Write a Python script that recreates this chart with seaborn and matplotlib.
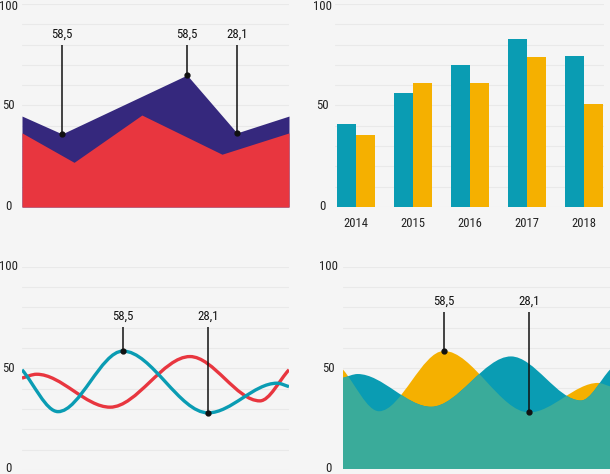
import numpy as np
import pandas as pd
import matplotlib
matplotlib.use("Agg")
import matplotlib.pyplot as plt
import seaborn as sns
from matplotlib.path import Path
from matplotlib.patches import PathPatch
from matplotlib.ticker import MultipleLocator
from matplotlib import font_manager as fm

# ---------------- data ----------------
# top-left stacked area (x on 0..100 scale)
area_top_x = [0, 15.0, 61.8, 80.5, 100]
area_top_y = [44.8, 36.0, 65.0, 36.5, 44.8]
area_low_x = [0, 19.5, 44.9, 74.9, 100]
area_low_y = [36.5, 22.0, 45.3, 26.0, 36.5]
area_labels = ["58,5", "58,5", "28,1"]
area_label_idx = [1, 2, 3]

# top-right grouped bars
years = ["2014", "2015", "2016", "2017", "2018"]
bars_a = [41, 56, 70, 83, 74.5]
bars_b = [35.5, 61, 61, 74, 50.5]

# bottom wave curves (knots, x on 0..100 scale)
wave_a_x = [0, 13.5, 37.8, 69.7, 95.5, 100]
wave_a_y = [49.3, 28.7, 58.5, 28.1, 42.7, 41.0]
wave_b_x = [0, 5.5, 33.0, 62.9, 89.1, 100]
wave_b_y = [45.2, 47.1, 30.9, 55.8, 34.0, 49.3]
wave_labels = ["58,5", "28,1"]
wave_label_idx = [2, 3]

y_ticks = [0, 50, 100]

# ---------------- style ----------------
BG = "#f5f5f5"
GRID = "#e9e9e9"
NAVY = "#35287d"
RED = "#e8363f"
TEAL = "#0a9cb3"
YELLOW = "#f5b000"
GREEN = "#3aab9a"

sns.set_theme(style="white")
plt.rcParams["font.family"] = ["DejaVu Sans"]
plt.rcParams["axes.facecolor"] = BG
plt.rcParams["figure.facecolor"] = BG

# pick a condensed face if one is installed
_pref = ["LiberationSansNarrow-Regular", "RobotoCondensed-Regular", "DejaVuSansCondensed.",
         "OpenSans_Condensed-Regular", "OpenSansCondensed", "NotoSans-Condensed",
         "NotoSansDisplay-Condensed", "Condensed-Regular", "Narrow"]
_files = [f.fname for f in fm.fontManager.ttflist]
_chosen = None
for key in _pref:
    cands = [p for p in _files if key in p.split("/")[-1]
             and "Bold" not in p.split("/")[-1] and "Italic" not in p.split("/")[-1]
             and "Oblique" not in p.split("/")[-1]]
    if cands:
        _chosen = sorted(cands)[0]
        break
if _chosen:
    FP = fm.FontProperties(fname=_chosen, size=9.2)
    FPX = fm.FontProperties(fname=_chosen, size=9)
else:
    FP = fm.FontProperties(family="DejaVu Sans", stretch="condensed", size=8.5)
    FPX = fm.FontProperties(family="DejaVu Sans", stretch="condensed", size=8)

W, H = 610, 474
fig = plt.figure(figsize=(W / 100, H / 100), dpi=100)
PT = 0.72  # points per pixel at 100 dpi


def make_ax(l, r, b0, t100, label_cx):
    ax = fig.add_axes([l / W, (H - b0) / H, (r - l) / W, (b0 - t100) / H])
    ax.set_facecolor(BG)
    for s in ax.spines.values():
        s.set_visible(False)
    ax.set_ylim(0, 100)
    ax.yaxis.set_minor_locator(MultipleLocator(10))
    ax.set_yticks(y_ticks)
    ax.set_yticklabels([])
    ax.tick_params(axis="y", which="both", length=0)
    ax.grid(False)
    ax.yaxis.grid(True, which="both", color=GRID, lw=0.8, zorder=0)
    ax.set_axisbelow(True)
    # y value labels, centred at label_cx (pixels), kept inside the canvas
    for v in y_ticks:
        ypx = b0 - (b0 - t100) * v / 100
        dy = 0.0
        if ypx < 6:
            dy = -(6 - ypx)
        if ypx > H - 6:
            dy = (ypx - (H - 6))
        ax.annotate(str(v), xy=(0, v), xycoords=("axes fraction", "data"),
                    xytext=((label_cx - l) * PT, dy * PT), textcoords="offset points",
                    ha="center", va="center", fontproperties=FP, color="#222222",
                    annotation_clip=False)
    return ax


def smooth_path(xs, ys, close_to_base=False):
    n = len(xs)
    slopes = [0.0] * n
    slopes[0] = (ys[1] - ys[0]) / (xs[1] - xs[0])
    slopes[-1] = (ys[-1] - ys[-2]) / (xs[-1] - xs[-2])
    verts = [(xs[0], ys[0])]
    codes = [Path.MOVETO]
    for i in range(n - 1):
        dx = xs[i + 1] - xs[i]
        verts += [(xs[i] + dx / 3, ys[i] + slopes[i] * dx / 3),
                  (xs[i + 1] - dx / 3, ys[i + 1] - slopes[i + 1] * dx / 3),
                  (xs[i + 1], ys[i + 1])]
        codes += [Path.CURVE4] * 3
    if close_to_base:
        verts += [(xs[-1], 0), (xs[0], 0), (xs[0], ys[0])]
        codes += [Path.LINETO, Path.LINETO, Path.CLOSEPOLY]
    return Path(verts, codes)


def annotate(ax, x, y, label, top):
    ax.plot([x, x], [y, top], color="#111111", lw=1.1, zorder=6, solid_capstyle="butt")
    ax.plot([x], [y], "o", color="#111111", ms=3.5, zorder=7)
    ax.text(x, top + 2.0, label, ha="center", va="bottom", fontproperties=FP,
            color="#111111", zorder=7)


# ---------------- top-left: area ----------------
ax1 = make_ax(22, 289, 207, 4, 8.5)
ax1.set_xlim(0, 100)
ax1.set_xticks([])
ax1.fill_between(area_top_x, area_top_y, 0, color=NAVY, lw=0, zorder=2)
ax1.fill_between(area_low_x, area_low_y, 0, color=RED, lw=0, zorder=3)
for lab, i in zip(area_labels, area_label_idx):
    annotate(ax1, area_top_x[i], area_top_y[i], lab, 80)

# ---------------- top-right: bars ----------------
ax2 = make_ax(335, 604, 207, 4, 322)
df = pd.DataFrame({
    "year": years * 2,
    "value": bars_a + bars_b,
    "series": ["a"] * len(years) + ["b"] * len(years),
})
sns.barplot(data=df, x="year", y="value", hue="series", palette=[TEAL, YELLOW],
            width=0.667, saturation=1, linewidth=0, legend=False, ax=ax2, zorder=3)
ax2.set_xlim(-0.368, 4.351)
ax2.set_ylim(0, 100)
ax2.set_xlabel("")
ax2.set_ylabel("")
ax2.set_yticklabels([])
ax2.tick_params(axis="x", length=0, pad=7, labelcolor="#222222")
for lab in ax2.get_xticklabels():
    lab.set_fontproperties(FPX)

# ---------------- bottom-left: lines ----------------
ax3 = make_ax(22, 289, 470, 266.7, 8.5)
ax3.set_xlim(0, 100)
ax3.set_xticks([])
ax3.add_patch(PathPatch(smooth_path(wave_b_x, wave_b_y), fill=False, edgecolor=RED,
                        lw=2.4, zorder=3, capstyle="butt"))
ax3.add_patch(PathPatch(smooth_path(wave_a_x, wave_a_y), fill=False, edgecolor=TEAL,
                        lw=2.4, zorder=4, capstyle="butt"))
for lab, i in zip(wave_labels, wave_label_idx):
    annotate(ax3, wave_a_x[i], wave_a_y[i], lab, 70.3)

# ---------------- bottom-right: areas ----------------
ax4 = make_ax(343, 610, 469.3, 267, 328)
ax4.set_xlim(0, 100)
ax4.set_xticks([])
p_yel = PathPatch(smooth_path(wave_a_x, wave_a_y, True), facecolor=YELLOW, lw=0, zorder=2)
ax4.add_patch(p_yel)
ax4.add_patch(PathPatch(smooth_path(wave_b_x, wave_b_y, True), facecolor=TEAL, lw=0, zorder=3))
p_green = PathPatch(smooth_path(wave_b_x, wave_b_y, True), facecolor=GREEN, lw=0, zorder=4)
ax4.add_patch(p_green)
p_green.set_clip_path(p_yel)
for lab, i in zip(wave_labels, wave_label_idx):
    annotate(ax4, wave_a_x[i], wave_a_y[i], lab, 78)

fig.savefig("out.png", dpi=100, facecolor=BG)
